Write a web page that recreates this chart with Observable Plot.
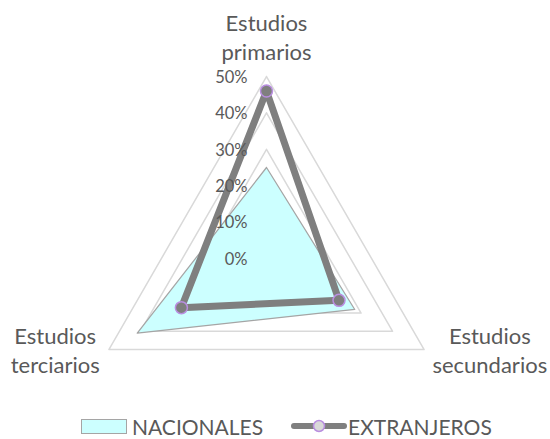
<!DOCTYPE html>
<html>
<head>
<meta charset="utf-8">
<script src="https://cdn.jsdelivr.net/npm/d3@7"></script>
<script src="https://cdn.jsdelivr.net/npm/@observablehq/plot@0.6"></script>
<style>
  html, body { margin: 0; padding: 0; background: #fff; }
  body { width: 550px; height: 439px; position: relative; overflow: hidden; font-family: Lato, "Open Sans", sans-serif; }
  #legend { position: absolute; left: 0; top: 413px; width: 550px; height: 26px; font-size: 21px; color: #595959; }
  .item { position: absolute; top: 0; display: flex; align-items: center; height: 26px; white-space: nowrap; }
  .sw { width: 44px; height: 13px; background: #ccffff; border: 1px solid #a5a5a5; margin-right: 5px; }
</style>
</head>
<body>
<div id="chart"></div>
<div id="legend">
  <div class="item" style="left:81px"><div class="sw"></div><span>NACIONALES</span></div>
  <div class="item" style="left:291px"><svg width="56" height="16" style="margin-right:1px"><line x1="3" y1="8" x2="53" y2="8" stroke="#7f7f7f" stroke-width="6" stroke-linecap="round"/><circle cx="28" cy="8" r="5.5" fill="#d9d9d9" stroke="#b98ee0" stroke-width="1.5"/></svg><span>EXTRANJEROS</span></div>
</div>
<script>
// Data
const categories = ["Estudios primarios", "Estudios secundarios", "Estudios terciarios"];
const nacionales = [25, 28, 41];
const extranjeros = [46, 23, 27];
const tickValues = [0, 10, 20, 30, 40, 50];
const tickLabels = ["0%", "10%", "20%", "30%", "40%", "50%"];
const gridLevels = [10, 20, 30, 40, 50];

// Geometry helpers (angle clockwise from top)
const angle = i => (i * 2 * Math.PI) / categories.length;
const pt = (i, r) => ({x: r * Math.sin(angle(i)), y: r * Math.cos(angle(i))});
const ring = vals => [...vals.map((v, i) => pt(i, v)), pt(0, vals[0])];

const gridData = gridLevels.flatMap(l => ring(categories.map(() => l)).map(p => ({...p, level: l})));
const nacData = ring(nacionales);
const extData = ring(extranjeros);
const extPts = extranjeros.map((v, i) => pt(i, v));
const ticks = tickValues.map((v, i) => ({x: 0, y: v, label: tickLabels[i]}));
const labelText = c => c.replace(" ", "\n");
const labels = categories.map((c, i) => ({...pt(i, 61), text: labelText(c), i}));

const k = 3.64, cx = 266, cy = 258, W = 550, H = 410;
const font = "Lato, 'Open Sans', sans-serif";
const lab = {x: "x", y: "y", text: "text", fontSize: 22, lineHeight: 1.32, fill: "#595959"};

const chart = Plot.plot({
  width: W, height: H,
  margin: 0,
  x: {domain: [-cx / k, (W - cx) / k], range: [0, W], axis: null},
  y: {domain: [(cy - H) / k, cy / k], range: [H, 0], axis: null},
  style: {fontFamily: font, background: "white"},
  marks: [
    Plot.line(gridData, {x: "x", y: "y", z: "level", stroke: "#d9d9d9", strokeWidth: 1.5}),
    Plot.line(nacData, {x: "x", y: "y", fill: "#ccffff", stroke: "#a5a5a5", strokeWidth: 1.25}),
    Plot.line(extData, {x: "x", y: "y", stroke: "#7f7f7f", strokeWidth: 7, strokeLinejoin: "round"}),
    Plot.dot(extPts, {x: "x", y: "y", r: 6, fill: "#7f7f7f", stroke: "#b98ee0", strokeWidth: 1.5}),
    Plot.text(ticks, {x: "x", y: "y", text: "label", textAnchor: "end", dx: -19, dy: 1, fontSize: 16.5, fill: "#595959"}),
    Plot.text(labels.filter(d => d.i === 0), lab),
    Plot.text(labels.filter(d => d.i === 1), {...lab, dx: 31, dy: -20}),
    Plot.text(labels.filter(d => d.i === 2), {...lab, dx: -19, dy: -20})
  ]
});
document.getElementById("chart").appendChild(chart);
</script>
</body>
</html>
